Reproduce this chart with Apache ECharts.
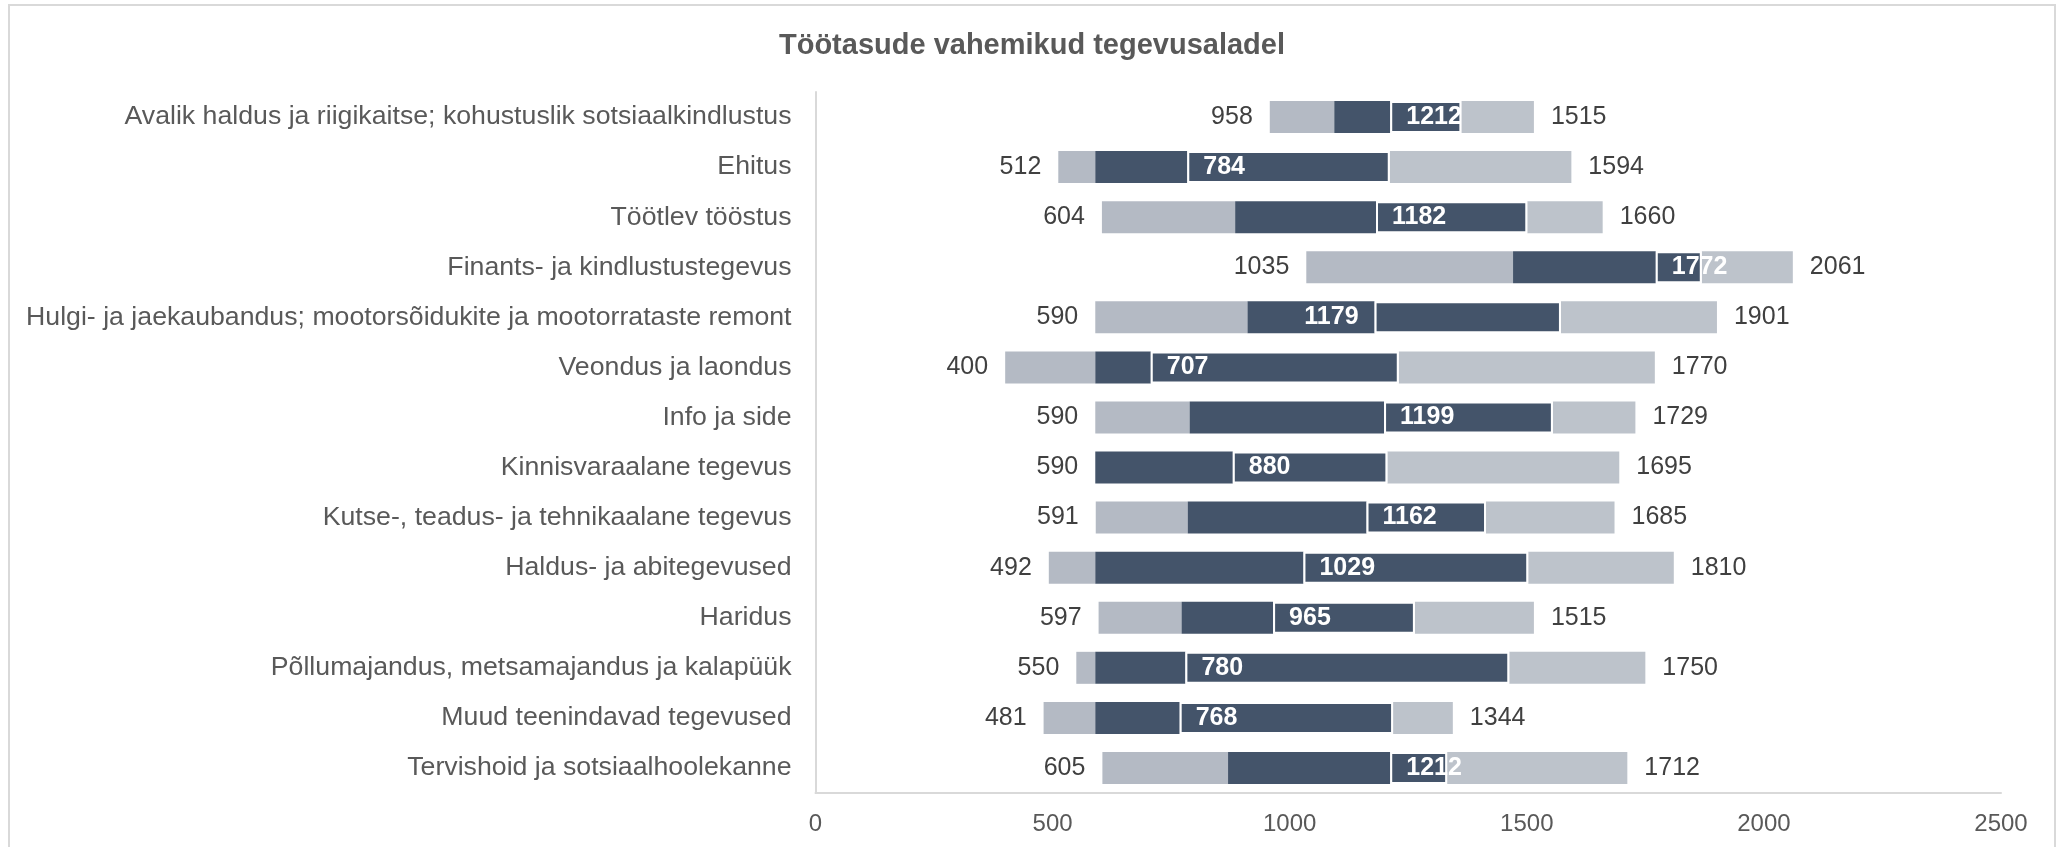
<!DOCTYPE html>
<html>
<head>
<meta charset="utf-8">
<title>Töötasude vahemikud tegevusaladel</title>
<script src="https://cdn.jsdelivr.net/npm/echarts@6/dist/echarts.min.js"></script>
<style>
  html, body { margin: 0; padding: 0; background: #fff; }
  #main { width: 2064px; height: 847px; }
</style>
</head>
<body>
<div id="main"></div>
<script>
var categories = [
    'Avalik haldus ja riigikaitse; kohustuslik sotsiaalkindlustus',
    'Ehitus',
    'Töötlev tööstus',
    'Finants- ja kindlustustegevus',
    'Hulgi- ja jaekaubandus; mootorsõidukite ja mootorrataste remont',
    'Veondus ja laondus',
    'Info ja side',
    'Kinnisvaraalane tegevus',
    'Kutse-, teadus- ja tehnikaalane tegevus',
    'Haldus- ja abitegevused',
    'Haridus',
    'Põllumajandus, metsamajandus ja kalapüük',
    'Muud teenindavad tegevused',
    'Tervishoid ja sotsiaalhoolekanne'
];
// min, lower quartile, median, upper quartile, max
var minVals = [958, 512, 604, 1035, 590, 400, 590, 590, 591, 492, 597, 550, 481, 605];
var q1Vals = [1094, 590, 885, 1471, 911, 590, 789, 590, 785, 590, 772, 590, 590, 870];
var medVals = [1212, 784, 1182, 1772, 1179, 707, 1199, 880, 1162, 1029, 965, 780, 768, 1212];
var q3Vals = [1362, 1211, 1501, 1869, 1572, 1230, 1555, 1206, 1414, 1503, 1264, 1463, 1218, 1332];
var maxVals = [1515, 1594, 1660, 2061, 1901, 1770, 1729, 1695, 1685, 1810, 1515, 1750, 1344, 1712];

var xTicks = [0, 500, 1000, 1500, 2000, 2500];

// rows where the median label sits left of the median line
var leftMedianRows = [4];

var myChart;
document.addEventListener("DOMContentLoaded", function() {
    initChart();
});

function diff(a, b) {
    var out = [];
    for (var i = 0; i < a.length; i++) {
        out.push(a[i] - b[i]);
    }
    return out;
}

function initChart() {
    myChart = echarts.init(document.getElementById('main'));
    var font = '"Liberation Sans", Arial, sans-serif';
    var dark = '#44546a';
    var barW = 32;

    var lowDark = diff(medVals, q1Vals).map(function (v, i) {
        if (leftMedianRows.indexOf(i) >= 0) {
            return {
                value: v,
                label: {
                    show: true, position: 'insideRight', distance: 16,
                    formatter: String(medVals[i]),
                    color: '#fff', fontWeight: 'bold', fontSize: 25, fontFamily: font
                }
            };
        }
        return v;
    });
    var highDark = diff(q3Vals, medVals).map(function (v, i) {
        if (leftMedianRows.indexOf(i) >= 0) {
            return { value: v, label: { show: false } };
        }
        return v;
    });

    var option = {
        animation: false,
        title: {
            text: 'Töötasude vahemikud tegevusaladel',
            left: 'center',
            top: 26,
            textStyle: { fontFamily: font, fontSize: 29, fontWeight: 'bold', color: '#595959' }
        },
        grid: { left: 815.5, right: 63, top: 92, bottom: 54 },
        xAxis: {
            type: 'value',
            min: xTicks[0],
            max: xTicks[xTicks.length - 1],
            interval: 500,
            axisLine: { show: true, lineStyle: { color: '#d9d9d9', width: 2 } },
            axisTick: { show: false },
            splitLine: { show: false },
            axisLabel: {
                fontFamily: font, fontSize: 24, color: '#595959', margin: 19,
                formatter: function (v) { return String(v); }
            }
        },
        yAxis: {
            type: 'category',
            inverse: true,
            data: categories,
            axisLine: { show: true, lineStyle: { color: '#d9d9d9', width: 2 } },
            axisTick: { show: false },
            axisLabel: { fontFamily: font, fontSize: 26.7, color: '#595959', margin: 24 }
        },
        graphic: [{
            type: 'rect',
            shape: { x: 9, y: 5, width: 2046, height: 860 },
            style: { fill: null, stroke: '#d9d9d9', lineWidth: 2 },
            silent: true
        }],
        series: [{
            name: 'base',
            type: 'bar',
            stack: 'range',
            barWidth: barW,
            data: minVals,
            itemStyle: { color: 'rgba(0,0,0,0)' },
            label: {
                show: true, position: 'insideRight', distance: 17,
                fontFamily: font, fontSize: 25, color: '#404040'
            }
        }, {
            name: 'min-q1',
            type: 'bar',
            stack: 'range',
            barWidth: barW,
            data: diff(q1Vals, minVals),
            itemStyle: { color: '#b4bac4' }
        }, {
            name: 'q1-median',
            type: 'bar',
            stack: 'range',
            barWidth: barW,
            data: lowDark,
            itemStyle: { color: dark }
        }, {
            name: 'median-q3',
            type: 'bar',
            stack: 'range',
            barWidth: barW,
            data: highDark,
            itemStyle: { color: dark, borderColor: '#fff', borderWidth: 2 },
            label: {
                show: true, position: 'insideLeft', distance: 16,
                formatter: function (p) { return medVals[p.dataIndex]; },
                fontFamily: font, fontSize: 25, fontWeight: 'bold', color: '#fff'
            },
            z: 3
        }, {
            name: 'q3-max',
            type: 'bar',
            stack: 'range',
            barWidth: barW,
            data: diff(maxVals, q3Vals),
            itemStyle: { color: '#bdc3cb' },
            label: {
                show: true, position: 'right', distance: 17,
                formatter: function (p) { return maxVals[p.dataIndex]; },
                fontFamily: font, fontSize: 25, color: '#404040'
            }
        }]
    };

    myChart.setOption(option);
}
</script>
</body>
</html>
